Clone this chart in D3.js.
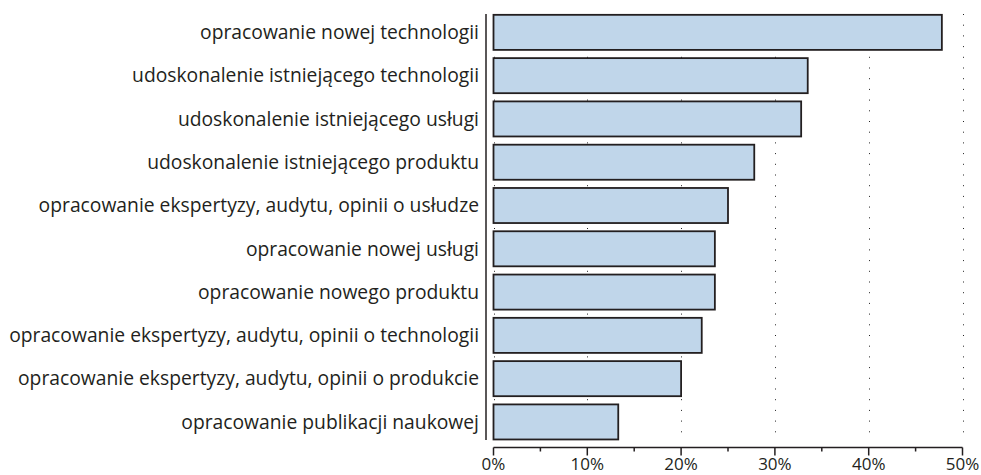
<!DOCTYPE html>
<html>
<head>
<meta charset="utf-8">
<script src="https://cdn.jsdelivr.net/npm/d3@7"></script>
<style>
  body { margin: 0; background: #fff; }
  svg { display: block; }
  text { font-family: "Open Sans", "Noto Sans", sans-serif; fill: #231f20; }
</style>
</head>
<body>
<svg width="981" height="475"></svg>
<script>
// dane
const categories = [
  'opracowanie nowej technologii',
  'udoskonalenie istniejącego technologii',
  'udoskonalenie istniejącego usługi',
  'udoskonalenie istniejącego produktu',
  'opracowanie ekspertyzy, audytu, opinii o usłudze',
  'opracowanie nowej usługi',
  'opracowanie nowego produktu',
  'opracowanie ekspertyzy, audytu, opinii o technologii',
  'opracowanie ekspertyzy, audytu, opinii o produkcie',
  'opracowanie publikacji naukowej'
];
const values = [47.8, 33.5, 32.8, 27.8, 25.0, 23.6, 23.6, 22.2, 20.0, 13.3];
const majorTicks = [0, 10, 20, 30, 40, 50];
const minorTicks = [5, 15, 25, 35, 45];

const svg = d3.select('svg');

const x = d3.scaleLinear()
  .domain([0, 50])
  .range([493.5, 962.5]);

const y = d3.scaleBand()
  .domain(categories)
  .range([10.5, 443.8])
  .paddingInner(0.19)
  .paddingOuter(0.1);

const plotTop = 14, plotBottom = 440, axisY = 447.5;

// siatka kropkowana
svg.append('g')
  .selectAll('line')
  .data(majorTicks)
  .join('line')
  .attr('x1', d => Math.round(x(d)) + 0.5)
  .attr('x2', d => Math.round(x(d)) + 0.5)
  .attr('y1', plotTop)
  .attr('y2', plotBottom)
  .attr('stroke', '#222')
  .attr('stroke-width', 1)
  .attr('stroke-dasharray', '1,9.7');

// słupki
svg.append('g')
  .selectAll('rect')
  .data(values)
  .join('rect')
  .attr('x', x(0))
  .attr('y', (d, i) => y(categories[i]))
  .attr('width', d => x(d) - x(0))
  .attr('height', y.bandwidth())
  .attr('fill', '#c0d6ea')
  .attr('stroke', '#231f20')
  .attr('stroke-width', 1.8);

// etykiety kategorii
svg.append('g')
  .selectAll('text')
  .data(categories)
  .join('text')
  .attr('x', 479)
  .attr('y', d => y(d) + y.bandwidth() / 2)
  .attr('dy', '0.35em')
  .attr('text-anchor', 'end')
  .attr('font-size', 19.3)
  .text(d => d);

// oś pionowa
svg.append('line')
  .attr('x1', 486).attr('x2', 486)
  .attr('y1', plotTop).attr('y2', plotBottom)
  .attr('stroke', '#231f20')
  .attr('stroke-width', 1.5);

// oś pozioma
const axis = svg.append('g');
axis.append('line')
  .attr('x1', x(0)).attr('x2', x(50))
  .attr('y1', axisY).attr('y2', axisY)
  .attr('stroke', '#231f20')
  .attr('stroke-width', 1.5);
axis.selectAll('.major')
  .data(majorTicks)
  .join('line')
  .attr('class', 'major')
  .attr('x1', d => x(d)).attr('x2', d => x(d))
  .attr('y1', axisY).attr('y2', axisY + 8)
  .attr('stroke', '#231f20')
  .attr('stroke-width', 1.5);
axis.selectAll('.minor')
  .data(minorTicks)
  .join('line')
  .attr('class', 'minor')
  .attr('x1', d => x(d)).attr('x2', d => x(d))
  .attr('y1', axisY).attr('y2', axisY + 4)
  .attr('stroke', '#231f20')
  .attr('stroke-width', 1.5);
axis.selectAll('text')
  .data(majorTicks)
  .join('text')
  .attr('x', d => x(d))
  .attr('y', 470)
  .attr('text-anchor', 'middle')
  .attr('font-size', 17)
  .text(d => d + '%');
</script>
</body>
</html>
